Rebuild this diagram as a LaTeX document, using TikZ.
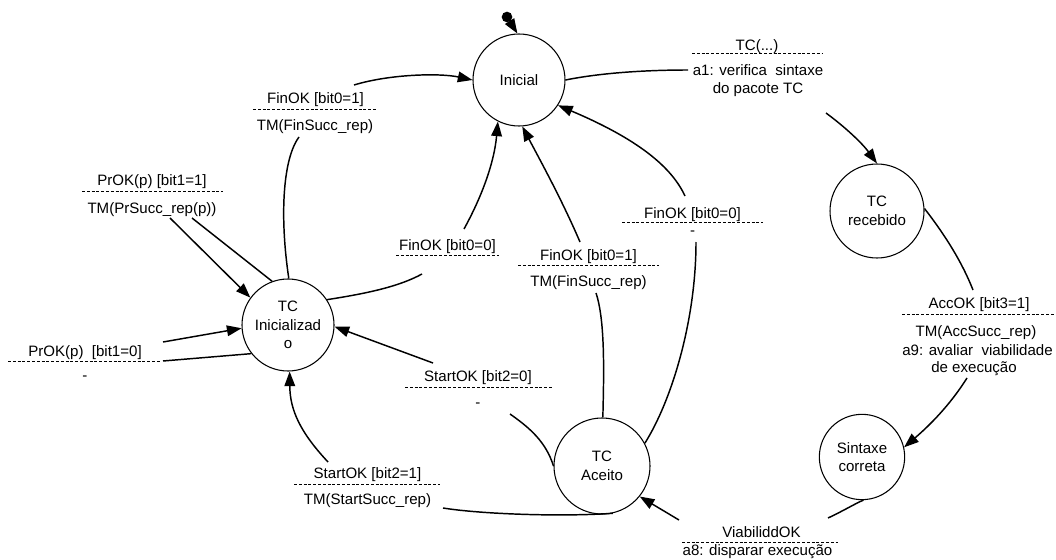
\documentclass[tikz,border=0pt]{standalone}
\usepackage{fontspec}
\setmainfont{Liberation Sans}
\usetikzlibrary{arrows.meta}
\begin{document}
\begin{tikzpicture}[x=0.75pt,y=-0.75pt,
  font=\fontsize{11.3}{14}\selectfont,
  state/.style={circle,draw,line width=0.8pt,inner sep=0pt,align=center},
  txt/.style={anchor=base,inner sep=0pt},
  sep/.style={line width=0.6pt,dash pattern=on 2.2pt off 1.4pt},
  wire/.style={line width=1.1pt},
  arr/.style={wire,-{Triangle[length=11pt,width=8pt]}}
]
\useasboundingbox (0,0) rectangle (1056,560);

% states
\node[state,minimum size=69pt]   (ini) at (519,80)  {Inicial};
\node[state,minimum size=70.5pt] (rec) at (877,211) {TC\\recebido};
\node[state,minimum size=69pt]   (tci) at (288,325) {TC\\Inicializad\\o};
\node[state,minimum size=72pt]   (acc) at (602,466) {TC\\Aceito};
\node[state,minimum size=64pt]   (syn) at (862,457) {Sintaxe\\correta};
\node[circle,fill,inner sep=0pt,minimum size=8pt] (start) at (507,17) {};

% transition labels: event, dashed separator, action
\node[txt] (l1e) at (757,51) {TC(...)};
\draw[sep] (692,53.5) -- (823,53.5);
\node[txt] (l1a) at (758,75) {a1: verifica\ \ sintaxe};
\node[txt] (l1b) at (758,93.5) {do pacote TC};
\coordinate (l1in) at (688,70);
\coordinate (l1out) at (826,113);

\node[txt] (l2e) at (315.5,103.3) {FinOK [bit0=1]};
\draw[sep] (253,109.3) -- (377,109.3);
\node[txt] (l2a) at (315,130.7) {TM(FinSucc\_rep)};
\coordinate (l2in) at (299,137);
\coordinate (l2out) at (354,85);

\node[txt] (l3e) at (152,185) {PrOK(p) [bit1=1]};
\draw[sep] (82,191.7) -- (223,191.7);
\node[txt] (l3a) at (152,213.3) {TM(PrSucc\_rep(p))};
\coordinate (l3in) at (192,218);
\coordinate (l3out) at (170,218);

\node[txt] (l4e) at (85,356) {PrOK(p)\ \ [bit1=0]};
\draw[sep] (8,361) -- (160,361);
\node[txt] (l4a) at (85,380.5) {-};
\coordinate (l4in) at (163,361);
\coordinate (l4out) at (163,342);

\node[txt] (l5e) at (447.5,250) {FinOK [bit0=0]};
\draw[sep] (396,255.7) -- (499,255.7);
\coordinate (l5in) at (422,274);
\coordinate (l5out) at (464,229);

\node[txt] (l6e) at (588.5,260) {FinOK [bit0=1]};
\draw[sep] (518,265.7) -- (659,265.7);
\node[txt] (l6a) at (588.5,286.7) {TM(FinSucc\_rep)};
\coordinate (l6in) at (596,293);
\coordinate (l6out) at (580,242);

\node[txt] (l7e) at (692.5,218) {FinOK [bit0=0]};
\draw[sep] (622,222.7) -- (763,222.7);
\node[txt] (l7a) at (692.7,235.5) {-};
\coordinate (l7in) at (696,242);
\coordinate (l7out) at (685,196);

\node[txt] (l8e) at (478,381.7) {StartOK [bit2=0]};
\draw[sep] (405,387.3) -- (552,387.3);
\node[txt] (l8a) at (478,407) {-};
\coordinate (l8in) at (510,414);
\coordinate (l8out) at (433,363);

\node[txt] (l9e) at (367.5,478) {StartOK [bit2=1]};
\draw[sep] (294,484.3) -- (440,484.3);
\node[txt] (l9a) at (367.5,504) {TM(StartSucc\_rep)};
\coordinate (l9in) at (443,508);
\coordinate (l9out) at (328,462);

\node[txt] (l10e) at (979,308) {AccOK [bit3=1]};
\draw[sep] (902,314) -- (1055,314);
\node[txt] (l10a) at (976,336.7) {TM(AccSucc\_rep)};
\node[txt] (l10b) at (977.5,355) {a9: avaliar\ \ viabilidade};
\node[txt] (l10c) at (974,372.7) {de execução};
\coordinate (l10in) at (973,290);
\coordinate (l10out) at (967,378);

\node[txt] (l11e) at (761.5,537.3) {ViabiliddOK};
\draw[sep] (682,542.7) -- (838,542.7);
\node[txt] (l11a) at (757.5,555) {a8: disparar execução};
\coordinate (l11in) at (828,518);
\coordinate (l11out) at (679,520);

% connectors
\draw[arr] (start) -- (ini.92);
\draw[wire] (ini.0) .. controls (600,73) and (645,70) .. (l1in);
\draw[arr] (l1out) .. controls (845,127) and (862,143) .. (rec.90);
\draw[wire] (rec.3) .. controls (945,235) and (962,262) .. (l10in);
\draw[arr] (l10out) .. controls (950,405) and (930,425) .. (syn.13);
\draw[wire] (syn.-88) .. controls (858,502) and (845,510) .. (l11in);
\draw[arr] (l11out) -- (acc.-39);
\draw[wire] (acc.-77) .. controls (560,517) and (480,514) .. (l9in);
\draw[arr] (l9out) .. controls (300,432) and (290,410) .. (tci.-88);
\draw[wire] (acc.180) .. controls (546,442) and (530,428) .. (l8in);
\draw[arr] (l8out) -- (tci.-2);
\draw[wire] (tci.33) .. controls (370,293) and (400,286) .. (l5in);
\draw[arr] (l5out) .. controls (480,200) and (494,165) .. (ini.-117);
\draw[wire] (acc.89) .. controls (604,370) and (605,320) .. (l6in);
\draw[arr] (l6out) .. controls (562,200) and (540,160) .. (ini.-86);
\draw[wire] (acc.28) .. controls (672,400) and (696,320) .. (l7in);
\draw[arr] (l7out) .. controls (672,168) and (640,140) .. (ini.-33);
\draw[wire] (tci.89) .. controls (280,220) and (282,160) .. (l2in);
\draw[arr] (l2out) .. controls (390,74) and (440,73) .. (ini.180);
\draw[wire] (tci.110) -- (l3in);
\draw[arr] (l3out) -- (tci.144);
\draw[wire] (tci.-142) -- (l4in);
\draw[arr] (l4out) -- (tci.-176);
\end{tikzpicture}
\end{document}
